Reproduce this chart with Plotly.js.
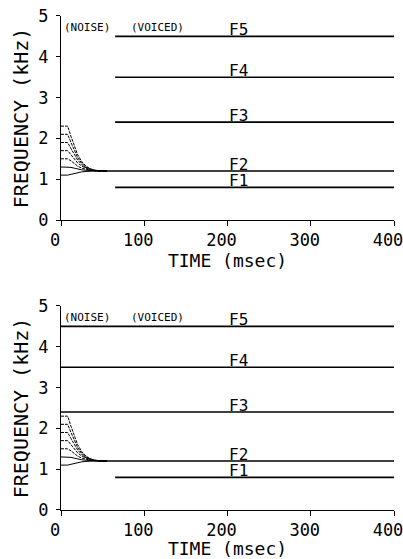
<!DOCTYPE html>
<html>
<head>
<meta charset="utf-8">
<script src="https://cdn.plot.ly/plotly-3.0.1.min.js"></script>
<style>html,body{margin:0;padding:0;background:#fff}#chart{width:403px;height:559px}</style>
</head>
<body>
<div id="chart"></div>
<script>
// Formant transition data (time in msec, frequency in kHz)
const transTime = [0, 8, 12, 16, 20, 25, 30, 35, 40, 45, 55];
const trans1 = [2.3, 2.3, 2.05, 1.8, 1.6, 1.43, 1.32, 1.26, 1.22, 1.21, 1.2];
const trans2 = [2.1, 2.1, 1.9, 1.7, 1.53, 1.39, 1.3, 1.25, 1.22, 1.21, 1.2];
const trans3 = [1.9, 1.9, 1.75, 1.6, 1.47, 1.36, 1.28, 1.24, 1.22, 1.21, 1.2];
const trans4 = [1.7, 1.7, 1.6, 1.5, 1.4, 1.32, 1.27, 1.23, 1.21, 1.2, 1.2];
const trans5 = [1.5, 1.5, 1.45, 1.38, 1.32, 1.27, 1.24, 1.22, 1.21, 1.2, 1.2];
const trans6 = [1.3, 1.3, 1.29, 1.27, 1.25, 1.23, 1.22, 1.21, 1.2, 1.2, 1.2];
const trans7 = [1.1, 1.1, 1.12, 1.14, 1.16, 1.18, 1.19, 1.2, 1.2, 1.2, 1.2];

// Steady-state formants
const formantNames = ["F1", "F2", "F3", "F4", "F5"];
const formantFreq = [0.8, 1.2, 2.4, 3.5, 4.5];
const startTop = [65, 45, 65, 65, 65];
const startBottom = [65, 45, 0, 0, 0];
const endTime = 400;

const xTicks = [0, 100, 200, 300, 400];
const yTicks = [0, 1, 2, 3, 4, 5];
const labelTime = 200;
const noiseLabel = {text: "(NOISE)", t: 1};
const voicedLabel = {text: "(VOICED)", t: 82};
const segLabelFreq = 4.73;

const transitions = [trans1, trans2, trans3, trans4, trans5, trans6, trans7];
const mono = "DejaVu Sans Mono";

const traces = [];
function addPanel(xa, ya, starts) {
  transitions.forEach((v, k) => {
    traces.push({x: transTime, y: v, xaxis: xa, yaxis: ya, mode: "lines",
      line: {color: "#000", width: 1, dash: k < 5 ? "3px,1px" : "solid"},
      hoverinfo: "skip", showlegend: false});
  });
  formantFreq.forEach((f, i) => {
    traces.push({x: [starts[i], endTime], y: [f, f], xaxis: xa, yaxis: ya, mode: "lines",
      line: {color: "#000", width: 1.6}, hoverinfo: "skip", showlegend: false});
  });
}
addPanel("x", "y", startTop);
addPanel("x2", "y2", startBottom);

const annotations = [];
[["x", "y"], ["x2", "y2"]].forEach(([xr, yr]) => {
  formantNames.forEach((n, i) => {
    annotations.push({x: labelTime, y: formantFreq[i], xref: xr, yref: yr, text: n,
      showarrow: false, xanchor: "left", yanchor: "bottom", yshift: -5, xshift: -1,
      font: {family: mono, size: 16, color: "#000"}});
  });
  [noiseLabel, voicedLabel].forEach(l => {
    annotations.push({x: l.t, y: segLabelFreq, xref: xr, yref: yr, text: l.text,
      showarrow: false, xanchor: "left", yanchor: "middle",
      font: {family: mono, size: 11, color: "#000"}});
  });
});

function xaxis(anchor) {
  return {range: [0, 400], tickvals: xTicks, ticktext: xTicks.map(String), ticks: "outside",
    ticklen: 5, tickcolor: "#000", showline: true, linecolor: "#000", linewidth: 1,
    showgrid: false, zeroline: false, anchor: anchor, domain: [0, 1],
    ticklabelshift: -6, ticklabeloverflow: "allow",
    tickfont: {family: mono, size: 17, color: "#000"},
    title: {text: "TIME (msec)", font: {family: mono, size: 18, color: "#000"}, standoff: 3}};
}
function yaxis(anchor, dom) {
  return {range: [0, 5], tickvals: yTicks, ticktext: yTicks.map(String), ticks: "outside",
    ticklen: 4, tickcolor: "#000", showline: true, linecolor: "#000", linewidth: 1,
    showgrid: false, zeroline: false, anchor: anchor, domain: dom,
    ticklabelstandoff: 4,
    tickfont: {family: mono, size: 17, color: "#000"},
    title: {text: "FREQUENCY (kHz)", font: {family: mono, size: 20, color: "#000"}, standoff: 4}};
}

const layout = {
  width: 403, height: 559,
  margin: {l: 61, r: 9, t: 0, b: 0},
  paper_bgcolor: "#fff", plot_bgcolor: "#fff",
  showlegend: false,
  xaxis: xaxis("y"),
  yaxis: yaxis("x", [0.6064, 0.9714]),
  xaxis2: xaxis("y2"),
  yaxis2: yaxis("x2", [0.0877, 0.4526]),
  annotations: annotations
};

Plotly.newPlot("chart", traces, layout, {staticPlot: true, displayModeBar: false});
</script>
</body>
</html>
